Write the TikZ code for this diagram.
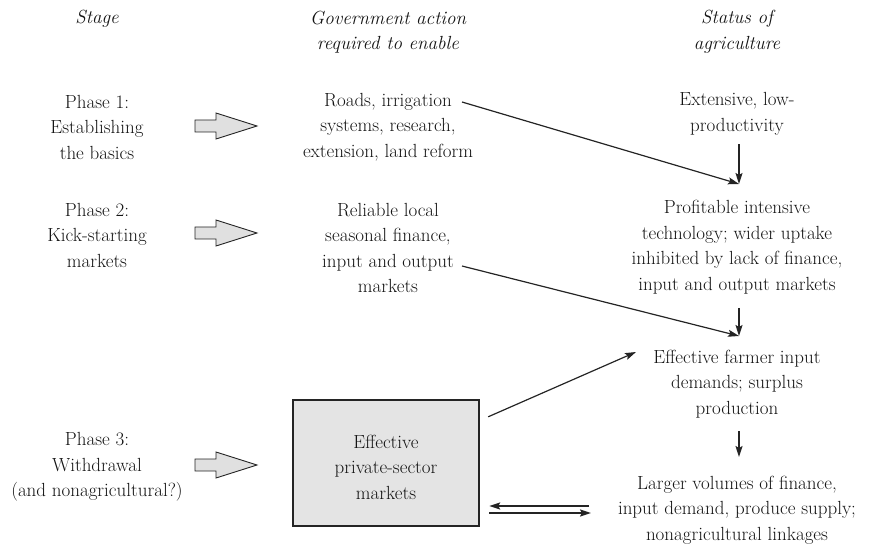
\documentclass[tikz,border=0pt]{standalone}
\usetikzlibrary{arrows.meta,calc}
\definecolor{ink}{gray}{0.14}
\definecolor{textink}{gray}{0.08}
\definecolor{boxfill}{gray}{0.895}
\definecolor{arrowfill}{gray}{0.88}
\tikzset{
  txt/.style={align=center, inner sep=0pt, text=textink, font=\rmfamily\fontsize{19}{25.5}\selectfont},
  head/.style={txt, font=\rmfamily\fontsize{19}{25.5}\selectfont\itshape},
  arr/.style={draw=ink, line width=1.5pt, -{Stealth[length=11pt,width=7pt,inset=2pt]}},
  diag/.style={arr, line width=1.2pt},
  marketbox/.style={draw=ink, line width=2.4pt, fill=boxfill, minimum width=186pt, minimum height=126pt, inner sep=0pt},
  pics/blockarrow/.style={code={
    \draw[ink, line width=0.9pt, fill=arrowfill, line join=miter]
      (-31,-6) -- (-10,-6) -- (-10,-13) -- (31,0) -- (-10,13) -- (-10,6) -- (-31,6) -- cycle;
  }}
}
\begin{document}
\begin{tikzpicture}[x=1pt, y=-1pt]
\useasboundingbox (0,0) rectangle (873,548);

% column headings
\node[head] (hstage) at (97,19) {Stage};
\node[head] (hgov) at (388,32) {Government action\\required to enable};
\node[head] (hstat) at (737,32) {Status of\\agriculture};

% stages
\node[txt] (ph1) at (97,127) {Phase 1:\\Establishing\\the basics};
\node[txt] (ph2) at (97,235) {Phase 2:\\Kick-starting\\markets};
\node[txt] (ph3) at (97,467) {Phase 3:\\Withdrawal\\(and nonagricultural?)};

% block arrows from stage to government action
\pic at (226,126) {blockarrow};
\pic at (226,233) {blockarrow};
\pic at (226,465) {blockarrow};

% government action
\node[txt] (roads) at (388,127) {Roads, irrigation\\systems, research,\\extension, land reform};
\node[txt] (reliable) at (388,248) {Reliable local\\seasonal finance,\\input and output\\markets};
\node[marketbox] (box) at (386,463) {};
\node[txt] (boxtxt) at (386,467) {Effective\\private-sector\\markets};

% status of agriculture
\node[txt] (ext) at (737,114) {Extensive, low-\\productivity};
\node[txt] (prof) at (737,247) {Profitable intensive\\technology; wider uptake\\inhibited by lack of  finance,\\input and output markets};
\node[txt] (farm) at (737,384) {Effective farmer input\\demands; surplus\\production};
\node[txt] (larger) at (737,510) {Larger volumes of  finance,\\input demand, produce supply;\\nonagricultural linkages};

% meeting points of the arrows
\coordinate (m1) at (739,184);
\coordinate (m2) at (739,336);
\coordinate (m3) at (739,457);
\coordinate (r1) at (462,102);
\coordinate (r2) at (462,266);
\coordinate (b1) at ($(box.north east)+(8,18)$);
\coordinate (f1) at (636,352);
\coordinate (dtop) at (589,506);
\coordinate (dbot) at (591,513);

% vertical progression
\draw[arr] (ext.south -| m1) ++(0,9) -- (m1);
\draw[arr] (prof.south -| m2) ++(0,14) -- (m2);
\draw[arr] (farm.south -| m3) ++(0,13) -- (m3);

% diagonal links
\draw[diag] (r1) -- (m1);
\draw[diag] (r2) -- (m2);
\draw[diag] (b1) -- (f1);

% two-way link between markets and linkages
\draw[arr, line width=1.8pt] (dtop) -- ($(box.east |- dtop)+(9,0)$);
\draw[arr, line width=1.8pt] ($(box.east |- dbot)+(9,0)$) -- (dbot);
\end{tikzpicture}
\end{document}
